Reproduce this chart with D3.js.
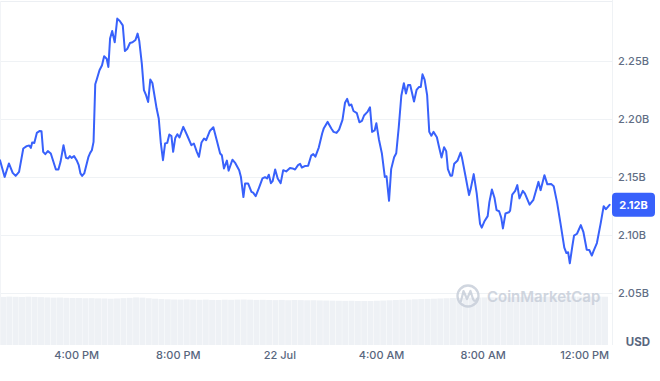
<!DOCTYPE html>
<html>
<head>
<meta charset="utf-8">
<script src="https://cdn.jsdelivr.net/npm/d3@7/dist/d3.min.js"></script>
<style>
  html, body { margin: 0; padding: 0; background: #fff; }
  svg { display: block; font-family: Inter, "Noto Sans", sans-serif; }
</style>
</head>
<body>
<svg id="chart" width="660" height="381"></svg>
<script>
// ---- Data ----
// minutes after 21 Jul 13:00
const minutes = [0,11,21,30,37,45,55,63,69,73,76,81,87,94,98,102,107,113,120,132,138,143,150,156,161,165,169,175,181,186,190,194,199,209,213,217,221,225,228,235,241,246,252,256,260,265,271,277,283,290,295,301,307,313,320,325,329,335,340,345,350,355,360,370,375,380,385,390,395,400,405,409,414,419,424,433,442,452,458,465,470,476,482,487,496,504,512,520,524,529,536,540,549,556,565,569,575,579,586,594,598,604,612,620,626,631,635,640,644,650,656,663,669,676,685,691,697,704,709,713,720,728,735,740,745,753,761,765,774,783,788,795,801,809,815,820,825,830,835,843,849,855,860,868,874,879,885,889,895,902,909,913,919,924,931,936,942,948,954,959,964,969,978,984,990,994,998,1003,1009,1014,1019,1024,1032,1037,1043,1049,1054,1058,1064,1068,1073,1081,1088,1091,1099,1108,1112,1119,1126,1134,1138,1144,1152,1156,1162,1168,1173,1179,1184,1188,1194,1202,1205,1210,1217,1222,1227,1235,1240,1251,1260,1272,1277,1286,1293,1302,1308,1316,1324,1333,1338,1342,1346,1352,1356,1363,1372,1378,1386,1392,1398,1402,1410,1419,1426,1431,1440];
// market value, billions USD
const values = [2.1647,2.1503,2.1619,2.1538,2.1512,2.1546,2.1748,2.1768,2.1774,2.1753,2.1800,2.1796,2.1882,2.1899,2.1897,2.1719,2.1699,2.1725,2.1705,2.1567,2.1567,2.1633,2.1776,2.1667,2.1662,2.1682,2.1667,2.1682,2.1647,2.1604,2.1533,2.1512,2.1533,2.1676,2.1710,2.1733,2.1805,2.2301,2.2336,2.2422,2.2465,2.2542,2.2522,2.2450,2.2695,2.2760,2.2663,2.2867,2.2846,2.2809,2.2588,2.2608,2.2657,2.2663,2.2683,2.2738,2.2674,2.2479,2.2250,2.2207,2.2149,2.2342,2.2312,2.2092,2.2006,2.1791,2.1647,2.1791,2.1796,2.1868,2.1854,2.1719,2.1839,2.1871,2.1843,2.1934,2.1862,2.1776,2.1791,2.1719,2.1676,2.1800,2.1834,2.1819,2.1901,2.1931,2.1819,2.1705,2.1690,2.1576,2.1643,2.1557,2.1651,2.1621,2.1561,2.1505,2.1329,2.1447,2.1447,2.1374,2.1367,2.1337,2.1411,2.1490,2.1501,2.1490,2.1522,2.1449,2.1466,2.1567,2.1490,2.1449,2.1561,2.1550,2.1580,2.1576,2.1567,2.1604,2.1615,2.1584,2.1596,2.1600,2.1686,2.1699,2.1677,2.1756,2.1877,2.1923,2.1977,2.1918,2.1891,2.1882,2.1910,2.1994,2.2142,2.2175,2.2118,2.2127,2.2071,2.2052,2.1974,2.1985,2.2032,2.2063,2.2103,2.1891,2.1903,2.1966,2.1828,2.1707,2.1503,2.1509,2.1297,2.1570,2.1673,2.1707,2.1934,2.2202,2.2310,2.2221,2.2295,2.2295,2.2153,2.2252,2.2278,2.2278,2.2387,2.2342,2.2207,2.1891,2.1858,2.1891,2.1845,2.1763,2.1670,2.1759,2.1725,2.1570,2.1514,2.1514,2.1617,2.1645,2.1712,2.1673,2.1522,2.1346,2.1402,2.1527,2.1363,2.1099,2.1066,2.1118,2.1165,2.1286,2.1395,2.1324,2.1217,2.1207,2.1152,2.1059,2.1188,2.1198,2.1213,2.1350,2.1382,2.1432,2.1318,2.1383,2.1359,2.1264,2.1306,2.1460,2.1389,2.1518,2.1439,2.1441,2.1423,2.1281,2.1102,2.0894,2.0847,2.0854,2.0758,2.0907,2.0997,2.1013,2.1088,2.1030,2.0875,2.0873,2.0825,2.0864,2.0933,2.1105,2.1251,2.1224,2.1262];
// volume per 15-minute bucket (relative units)
const volumes = [46.5,46.8,46.6,46.4,46.7,46.5,46.3,
  46.0,45.8,45.9,45.6,45.4,45.5,45.2,45.3,
  45.1,45.0,44.8,45.0,45.3,45.6,
  46.0,45.8,45.2,44.8,
  44.4,44.2,44.0,43.9,44.1,43.8,43.7,43.9,43.6,43.5,43.8,43.7,43.9,44.0,43.8,43.6,43.7,43.5,43.4,43.6,43.3,43.5,43.4,43.2,43.3,43.1,
  43.0,42.9,42.8,42.7,42.8,42.6,42.5,42.6,42.8,43.0,43.2,43.5,
  43.7,43.9,44.2,44.4,44.6,44.8,45.0,45.2,45.4,45.5,
  45.7,45.8,45.9,46.0,46.1,46.2,46.3,46.2,46.4,46.5,46.3,46.6,46.5,46.7,46.6,46.8,46.7,46.9,46.8,47.0,46.8,46.9,46.7];
const yTicks = [2.05, 2.10, 2.15, 2.20, 2.25];
const gridValues = [2.05, 2.10, 2.15, 2.20, 2.25];
const currency = "USD";
const watermark = "CoinMarketCap";

// ---- Layout ----
const W = 660, H = 381;
const plotRight = 612;
const lineRight = 609.6;
const start = new Date(2024, 6, 21, 13, 0);
const end = new Date(2024, 6, 22, 13, 0);
const data = minutes.map((m, i) => ({ t: new Date(start.getTime() + m * 60000), v: values[i] }));

const svg = d3.select("#chart");
svg.append("rect").attr("width", W).attr("height", H).attr("fill", "#fff");

const x = d3.scaleTime().domain([start, end]).range([0, lineRight]);
const y = d3.scaleLinear().domain([2.05, 2.25]).range([293.3, 61.2]);
const volY = d3.scaleLinear().domain([0, 50]).range([345, 293.3]);
const band = d3.scaleBand().domain(d3.range(volumes.length)).range([0, 608]).paddingInner(0.06);

// volume bars
svg.append("g").selectAll("rect").data(volumes).join("rect")
  .attr("x", (d, i) => band(i))
  .attr("width", band.bandwidth())
  .attr("y", d => volY(d))
  .attr("height", d => volY(0) - volY(d))
  .attr("fill", "#eef1f5");

// grid lines
svg.append("g").selectAll("line").data(gridValues).join("line")
  .attr("x1", 0).attr("x2", plotRight)
  .attr("y1", d => Math.round(y(d)) + 0.5).attr("y2", d => Math.round(y(d)) + 0.5)
  .attr("stroke", "#eff2f5").attr("stroke-width", 1);

// frame lines
svg.append("line").attr("x1", 0).attr("x2", plotRight).attr("y1", 1.5).attr("y2", 1.5)
  .attr("stroke", "#eceff3");
svg.append("line").attr("x1", 0.5).attr("x2", 0.5).attr("y1", 1).attr("y2", 345)
  .attr("stroke", "#f2f4f7");
svg.append("line").attr("x1", plotRight + 0.5).attr("x2", plotRight + 0.5).attr("y1", 0).attr("y2", 345)
  .attr("stroke", "#eff2f5");

// watermark
const wm = svg.append("g").attr("opacity", 0.8);
wm.append("circle").attr("cx", 468).attr("cy", 296).attr("r", 10.5)
  .attr("fill", "none").attr("stroke", "#c5ccd8").attr("stroke-width", 2.3);
wm.append("path")
  .attr("d", "M461,301 L463.5,291 L467,299 L470.5,291 L473,299 Q475,303 477,299")
  .attr("fill", "none").attr("stroke", "#c5ccd8").attr("stroke-width", 2.2)
  .attr("stroke-linejoin", "round").attr("stroke-linecap", "round");
wm.append("text").attr("x", 487).attr("y", 302)
  .attr("font-size", 15).attr("font-weight", 600).attr("fill", "#c5ccd8")
  .text(watermark);

// price line
const line = d3.line().x(d => x(d.t)).y(d => y(d.v));
svg.append("path").datum(data)
  .attr("d", line)
  .attr("fill", "none")
  .attr("stroke", "#3861fb")
  .attr("stroke-width", 2)
  .attr("stroke-linejoin", "round")
  .attr("stroke-linecap", "round");

// right axis labels
const yAxis = d3.axisRight(y).tickValues(yTicks).tickSize(0).tickPadding(0)
  .tickFormat(d => d.toFixed(2) + "B");
const ya = svg.append("g").attr("transform", `translate(618,0)`).call(yAxis);
ya.select(".domain").remove();
ya.selectAll("text").attr("font-size", 11).attr("font-weight", 500)
  .attr("fill", "#616e85").attr("font-family", "Inter, sans-serif");

// bottom axis
const fmt = d => (d.getHours() === 0 ? d3.timeFormat("%-d %b")(d) : d3.timeFormat("%-I:%M %p")(d));
const xAxis = d3.axisBottom(x).ticks(d3.timeHour.every(4)).tickSize(0).tickPadding(0).tickFormat(fmt);
const xa = svg.append("g").attr("transform", `translate(0,351)`).call(xAxis);
xa.select(".domain").remove();
xa.selectAll("text").attr("font-size", 11).attr("font-weight", 500)
  .attr("fill", "#58667e").attr("font-family", "Inter, sans-serif");

// currency label
svg.append("text").attr("x", 650).attr("y", 345.5).attr("text-anchor", "end")
  .attr("font-size", 11.5).attr("font-weight", 700).attr("fill", "#58667e")
  .text(currency);

// last value badge
const last = data[data.length - 1];
const ly = y(last.v);
svg.append("rect").attr("x", 612).attr("y", ly - 12).attr("width", 43).attr("height", 24)
  .attr("rx", 4).attr("fill", "#3861fb");
svg.append("text").attr("x", 633.5).attr("y", ly).attr("dy", "0.35em")
  .attr("text-anchor", "middle").attr("font-size", 11).attr("font-weight", 700)
  .attr("fill", "#fff").text((Math.floor(last.v * 100) / 100).toFixed(2) + "B");
</script>
</body>
</html>
